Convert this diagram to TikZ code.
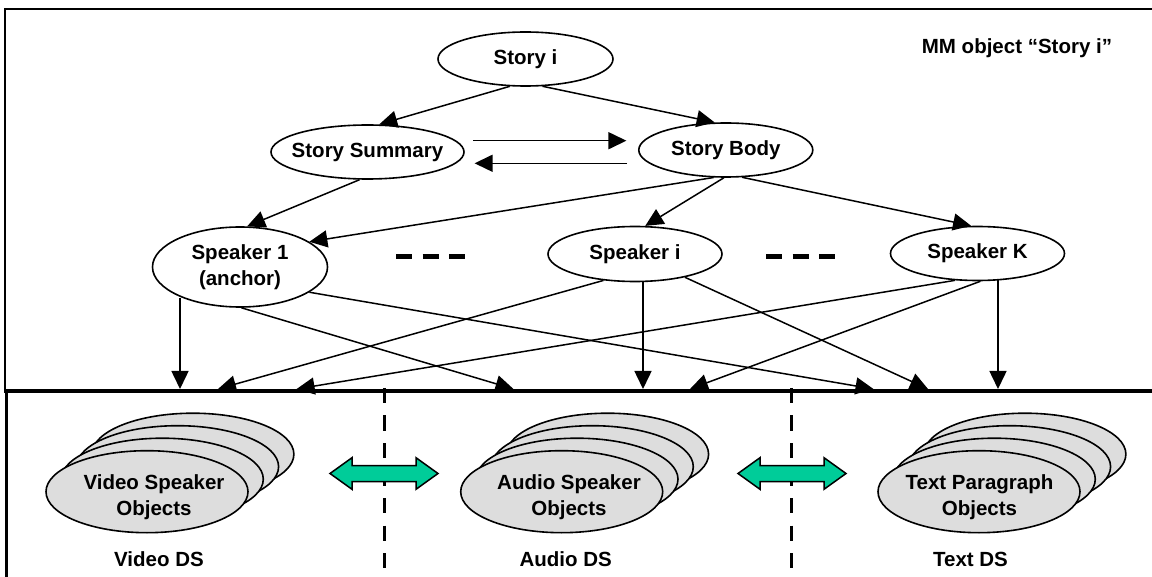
\documentclass[tikz,border=0pt]{standalone}
\usepackage{fontspec}
\setmainfont{Liberation Sans}
\usetikzlibrary{arrows.meta, shapes.geometric}
\definecolor{objgray}{HTML}{DDDDDD}
\definecolor{dsgreen}{HTML}{00CC99}
\def\bx{\fontsize{20.5}{26}\selectfont\bfseries}

\begin{document}
\begin{tikzpicture}[x=1pt, y=-1pt,
  mm/.style={draw, ellipse, line width=1.6pt, inner xsep=-40pt, inner ysep=-20pt, align=center, font=\bx},
  obj/.style={draw, ellipse, line width=1.6pt, fill=objgray, minimum width=202pt, minimum height=82pt},
  arr/.style={line width=1.5pt, -{Triangle[length=18pt, width=17pt]}},
  lbl/.style={font=\bx, inner sep=0pt, align=center}]
\useasboundingbox (0,0) rectangle (1152,577);

\foreach \sx in {384,791}
  \draw[line width=3pt, dash pattern=on 15pt off 12.5pt] (\sx,388) -- (\sx,568);
\draw[line width=1.8pt] (5,391) -- (5,9) -- (1152,9);
\draw[line width=3pt] (6,577) -- (6,391);
\draw[line width=3.5pt] (4,391) -- (1152,391);

\node[mm, minimum width=175pt, minimum height=54pt] (story) at (525.5,59) {Story i};
\node[mm, minimum width=193pt, minimum height=54pt] (summary) at (367.5,152) {Story Summary};
\node[mm, minimum width=174pt, minimum height=54pt] (body) at (725.8,150) {Story Body};
\node[mm, minimum width=175pt, minimum height=80pt] (spk1) at (240,267) {Speaker 1\\(anchor)};
\node[mm, minimum width=174pt, minimum height=55pt] (spki) at (635,254) {Speaker i};
\node[mm, minimum width=174pt, minimum height=54pt] (spkk) at (977.5,253.5) {Speaker K};
\node[lbl] (title) at (1017,48) {MM object “Story i”};

\draw[line width=4.5pt, dash pattern=on 16pt off 10.5pt] (396,256.7) -- (465,256.7);
\draw[line width=4.5pt, dash pattern=on 16pt off 10.5pt] (766,256.7) -- (835,256.7);

\draw[arr] (story.240) -- (summary.67);
\draw[arr] (story.302) -- (body.112);
\draw[arr] ([xshift=8.6pt,yshift=11.3pt]summary.east) -- ([xshift=-11.6pt,yshift=9.3pt]body.west);
\draw[arr] ([xshift=-10.8pt,yshift=-13.3pt]body.west) -- ([xshift=9.8pt,yshift=-11.3pt]summary.east);
\draw[arr] (summary.254) -- (spk1.80);
\draw[arr] (body.246) -- (spk1.20);
\draw[arr] (body.266) -- (spki.70);
\draw[arr] (body.301) -- (spkk.103);

\coordinate (vidA) at (180,389);
\coordinate (vidB) at (218,389);
\coordinate (vidC) at (296.6,389);
\coordinate (audA) at (513.5,389);
\coordinate (audB) at (643,389);
\coordinate (audC) at (690,389);
\coordinate (txtA) at (873.5,389);
\coordinate (txtB) at (928,389);
\coordinate (txtC) at (998,389);

\draw[arr] (spk1.208 -| vidA) -- (vidA);
\draw[arr] (spk1.272) -- (audA);
\draw[arr] (spk1.340) -- (txtA);
\draw[arr] (spki.220) -- (vidB);
\draw[arr] (spki.272 -| audB) -- (audB);
\draw[arr] (spki.335) -- (txtB);
\draw[arr] (spkk.230) -- (vidC);
\draw[arr] (spkk.276) -- (audC);
\draw[arr] (spkk.308 -| txtC) -- (txtC);

\foreach \nm/\cx in {video/147, audio/561.7, text/979}{
  \foreach \k in {3,2,1}
    \node[obj] (\nm\k) at (\cx+15.3*\k, 491.7-12.5*\k) {};
  \node[obj] (\nm) at (\cx,491.7) {};
}
\node[lbl] (videotxt) at (154,497) {Video Speaker\\Objects};
\node[lbl] (audiotxt) at (569,497) {Audio Speaker\\Objects};
\node[lbl] (texttxt) at (979.5,497) {Text Paragraph\\Objects};

\node[lbl] (videods) at (159,559) {Video DS};
\node[lbl] (audiods) at (565.7,559) {Audio DS};
\node[lbl] (textds) at (970.5,559) {Text DS};

\foreach \cx in {384,792}
  \filldraw[fill=dsgreen, line width=1.5pt] (\cx-54,473.5) -- ++(22,-15.8) -- ++(0,7.8) -- ++(64,0)
    -- ++(0,-7.8) -- ++(22,15.8) -- ++(-22,15.8) -- ++(0,-7.8) -- ++(-64,0) -- ++(0,7.8) -- cycle;
\end{tikzpicture}
\end{document}
